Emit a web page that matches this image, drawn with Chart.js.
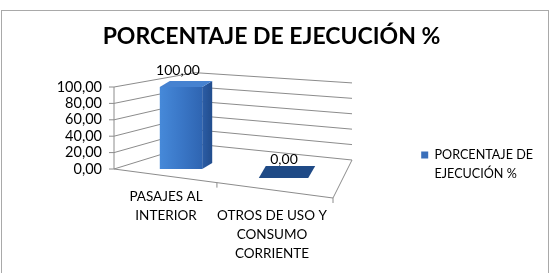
<!DOCTYPE html>
<html>
<head>
<meta charset="utf-8">
<script src="https://cdn.jsdelivr.net/npm/chart.js@4.4.1/dist/chart.umd.min.js"></script>
<style>
  html, body { margin: 0; padding: 0; background: #fff; }
  #wrap { width: 551px; height: 273px; }
</style>
</head>
<body>
<div id="wrap"><canvas id="c" width="551" height="273"></canvas></div>
<script>
// data
const titleText = 'PORCENTAJE DE EJECUCIÓN %';
const seriesLabel = 'PORCENTAJE DE EJECUCIÓN %';
const legendLines = ['PORCENTAJE DE', 'EJECUCIÓN %'];
// empty first line pushes the 2nd label one row down (staggered like the original)
const categories = [['PASAJES AL', 'INTERIOR'], ['', 'OTROS DE USO Y', 'CONSUMO', 'CORRIENTE']];
const values = [100, 0];
const yTicks = [0, 20, 40, 60, 80, 100];

const fmt = v => Number(v).toFixed(2).replace('.', ',');
const plotRight = 340;   // where the plot area should end
const padRight = 8;

Chart.defaults.font.family = 'Lato, "Open Sans", sans-serif';
Chart.defaults.color = '#000';

const seg = (c, x1, y1, x2, y2) => { c.beginPath(); c.moveTo(x1, y1); c.lineTo(x2, y2); c.stroke(); };
const poly = (c, pts, fill) => {
  c.beginPath();
  pts.forEach(([x, y], i) => i ? c.lineTo(x, y) : c.moveTo(x, y));
  c.closePath();
  c.fillStyle = fill;
  c.fill();
};

// fake 3D box: left wall, back wall and floor, built off the y scale
const frame3d = {
  id: 'frame3d',
  beforeDraw(chart) {
    const c = chart.ctx;
    c.save();
    c.fillStyle = '#fff';
    c.fillRect(0, 0, chart.width, chart.height);
    c.strokeStyle = '#a9a9a9';
    c.lineWidth = 1;
    c.strokeRect(1.5, 10.5, chart.width - 4, chart.height);
    c.restore();
  },
  beforeDatasetsDraw(chart) {
    const a = chart.chartArea, ys = chart.scales.y, c = chart.ctx;
    const base = ys.getPixelForValue(0);
    const fl = a.left - 14, bl = a.left + 67, br = a.right + 12, fr = a.right - 7;
    const blY = y => base - 25 - (base - y) * 0.87;
    const brY = y => base - 9 - (base - y) * 0.94;
    c.save();
    c.strokeStyle = '#8c8c8c';
    c.lineWidth = 1;
    yTicks.forEach(t => {
      const y = ys.getPixelForValue(t);
      seg(c, fl, y, bl, blY(y));
      seg(c, bl, blY(y), br, brY(y));
      seg(c, fl - 5, y, fl, y);
    });
    seg(c, fl, base, fl, ys.getPixelForValue(ys.max));
    const frY = base + 29;
    seg(c, fl, base, fr, frY);
    seg(c, fr, frY, br, brY(base));
    seg(c, fr, frY, fr, frY + 5);
    const mx = fl + (fr - fl) * 0.47, my = base + 29 * 0.47;
    seg(c, mx, my, mx, my + 5);
    c.restore();
  }
};

// side / top faces and value labels for each bar
const bars3d = {
  id: 'bars3d',
  afterDatasetsDraw(chart) {
    const c = chart.ctx, meta = chart.getDatasetMeta(0);
    c.save();
    meta.data.forEach((bar, i) => {
      const {x, y, base, width} = bar.getProps(['x', 'y', 'base', 'width'], true);
      const l = x - width / 2, r = x + width / 2;
      const dx = 10, dy = 6;
      if (values[i] > 0) {
        const sg = c.createLinearGradient(r, 0, r + dx, 0);
        sg.addColorStop(0, '#2b5da6');
        sg.addColorStop(1, '#224d8d');
        poly(c, [[r, y], [r + dx, y - dy], [r + dx, base - dy], [r, base]], sg);
        poly(c, [[l, y], [r, y], [r + dx, y - dy], [l + dx, y - dy]], '#4682d0');
      } else {
        poly(c, [[l - 7, base + 9], [r, base + 9], [r + 7, base - 3], [l, base - 3]], '#1f4a86');
      }
      c.fillStyle = '#000';
      c.font = '14px Lato, "Open Sans", sans-serif';
      c.textAlign = 'center';
      c.textBaseline = 'middle';
      c.fillText(fmt(values[i]), x - 3, values[i] > 0 ? y - dy - 11 : base - 10);
    });
    c.restore();
  }
};

new Chart(document.getElementById('c'), {
  type: 'bar',
  data: {
    labels: categories,
    datasets: [{
      label: seriesLabel,
      data: values,
      backgroundColor: ctx => {
        const ch = ctx.chart;
        if (!ch.chartArea) return '#3a78c8';
        const cx = ch.scales.x.getPixelForValue(ctx.dataIndex);
        const g = ch.ctx.createLinearGradient(cx - 21, 0, cx + 21, 0);
        g.addColorStop(0, '#4689d9');
        g.addColorStop(0.5, '#3a77c7');
        g.addColorStop(1, '#2f65b2');
        return g;
      },
      borderWidth: 0,
      barPercentage: 0.4,
      categoryPercentage: 1
    }]
  },
  options: {
    responsive: false,
    animation: false,
    devicePixelRatio: 1,
    layout: { padding: { left: 0, right: padRight, top: 0, bottom: 0 } },
    plugins: {
      title: {
        display: true,
        text: titleText,
        color: '#000',
        font: { size: 23, weight: 'bold' },
        padding: { top: 23.2, bottom: 36.2 }
      },
      legend: {
        position: 'right',
        align: 'center',
        title: { display: true, text: '', padding: 25, font: { size: 10 } },
        labels: {
          boxWidth: 7,
          boxHeight: 7,
          color: '#000',
          padding: 10,
          font: { size: 12.6, lineHeight: 1.5 },
          generateLabels: () => [{
            text: legendLines,
            fillStyle: '#3a6fba',
            strokeStyle: '#3a6fba',
            lineWidth: 0,
            hidden: false,
            datasetIndex: 0
          }]
        }
      },
      tooltip: { enabled: false }
    },
    scales: {
      x: {
        grid: { display: false, drawTicks: false },
        border: { display: false },
        ticks: { color: '#000', font: { size: 13.5, lineHeight: 1.41 }, padding: 18, labelOffset: -15, maxRotation: 0, autoSkip: false },
        afterFit: s => { s.height = 104; }
      },
      y: {
        min: 0,
        max: 100,
        grid: { display: false, drawTicks: false },
        border: { display: false },
        ticks: { stepSize: 20, autoSkip: false, color: '#000', font: { size: 14.5 }, padding: 26, callback: v => fmt(v) },
        afterFit: s => { s.width = 128; }
      },
      y2: {
        display: false,
        position: 'right',
        afterFit: s => { s.width = Math.max(0, s.chart.width - padRight - s.chart.legend.width - plotRight); }
      }
    }
  },
  plugins: [frame3d, bars3d]
});
</script>
</body>
</html>
